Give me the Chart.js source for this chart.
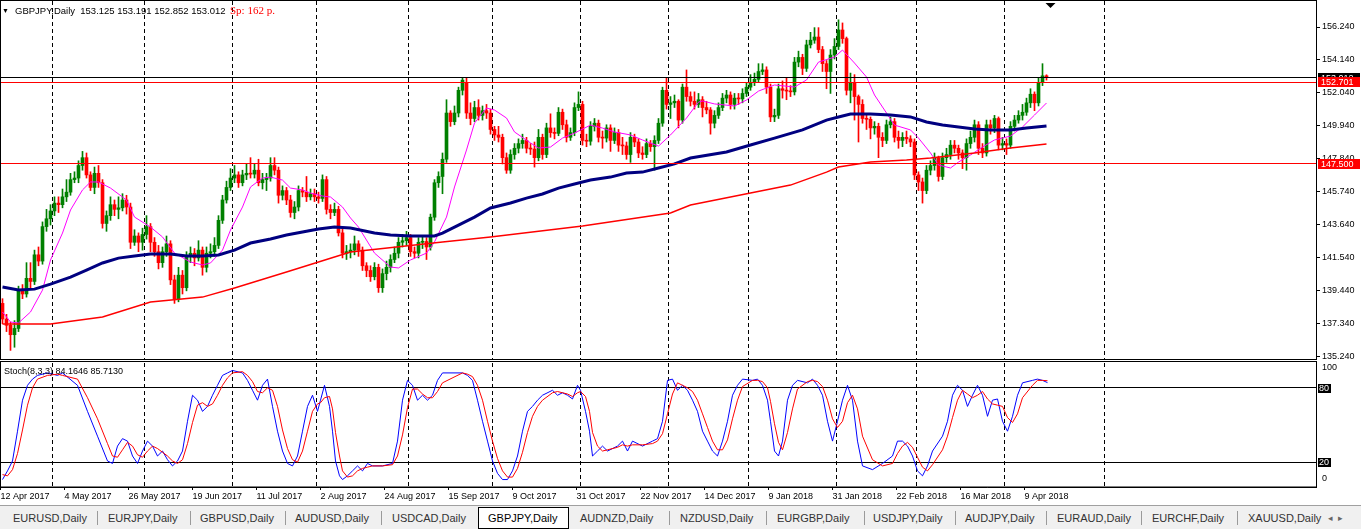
<!DOCTYPE html>
<html><head><meta charset="utf-8">
<script src="https://cdn.jsdelivr.net/npm/chart.js@4.4.1/dist/chart.umd.min.js"></script>
<style>
html,body{margin:0;padding:0;background:#fff;width:1361px;height:529px;overflow:hidden;font-family:'Liberation Sans',Arial,sans-serif;}
#wrap{position:relative;width:1361px;height:529px;}
canvas{position:absolute;left:0;}
#c1{top:0;} #c2{top:360px;}
.t{position:absolute;white-space:nowrap;font-size:9px;line-height:11px;color:#000;}
#tabs{position:absolute;left:0;top:505px;width:1361px;height:24px;background:#f0f0f0;border-top:1px solid #a0a0a0;}
.tab{position:absolute;top:6px;font-size:11px;line-height:13px;color:#333;white-space:nowrap;}
.sep{position:absolute;top:5px;width:1px;height:14px;background:#9a9a9a;}
#active{position:absolute;left:478px;top:1px;width:89px;height:20px;background:#fff;border:1px solid #000;}
</style></head>
<body><div id="wrap">
<canvas id="c1" width="1361" height="360"></canvas>
<canvas id="c2" width="1361" height="146"></canvas>
<div class="t" style="left:2px;top:5px;font-size:7px;">&#9660;</div>
<div class="t" style="left:15px;top:5px;font-size:9.5px;">GBPJPY,Daily&nbsp; 153.125 153.191 152.852 153.012</div>
<div class="t" style="left:230px;top:4px;font-family:'Liberation Serif',serif;font-size:11px;line-height:13px;color:#ff0000;">Sp: 162 p.</div>
<div class="t" style="left:4px;top:366px;">Stoch(8,3,3) 84.1646 85.7130</div>
<div id="tabs"></div>
</div>
<script>
// ---------- data ----------
const dateLabels = ['12 Apr 2017','4 May 2017','26 May 2017','19 Jun 2017','11 Jul 2017','2 Aug 2017','24 Aug 2017','15 Sep 2017','9 Oct 2017','31 Oct 2017','22 Nov 2017','14 Dec 2017','9 Jan 2018','31 Jan 2018','22 Feb 2018','16 Mar 2018','9 Apr 2018'];
const dateTickBars = [0,16,32,48,64,80,96,112,128,144,160,176,192,208,224,240,256];
const monthStartBars = [13,36,58,79,102,123,145,167,187,209,229,251,276];
const priceTicks = [135.24,137.34,139.44,141.54,143.64,145.74,147.84,149.94,152.04,154.14,156.24];
const levelLines = [147.5, 152.701];
const bidPrice = 153.012;
const stochLevels = [20, 80];
const tabNames = ['EURUSD,Daily','EURJPY,Daily','GBPUSD,Daily','AUDUSD,Daily','USDCAD,Daily','GBPJPY,Daily','AUDNZD,Daily','NZDUSD,Daily','EURGBP,Daily','USDJPY,Daily','AUDJPY,Daily','EURAUD,Daily','EURCHF,Daily','XAUUSD,Daily'];

const opens = [
138.6,137.6,137.2,136.6,137.0,139.4,139.2,140.2,140.0,141.7,
141.3,143.5,144.0,144.5,145.0,144.9,145.4,145.7,146.5,146.6,
147.4,147.9,146.8,146.0,146.9,146.3,143.7,144.2,144.9,144.6,
144.7,145.2,144.75,142.5,142.9,142.5,143.0,143.5,142.5,141.9,
141.2,141.9,142.4,140.1,138.9,140.4,139.6,141.6,141.8,141.5,
142.0,140.9,141.8,141.9,142.3,143.9,145.2,146.0,146.6,146.8,
146.3,146.8,146.9,146.85,147.1,146.3,146.5,146.6,147.4,147.1,
145.5,145.8,145.2,144.4,144.75,145.8,145.7,145.4,145.6,145.4,
145.3,146.5,144.6,144.4,144.6,143.1,141.8,141.9,142.0,142.4,
142.0,141.0,140.7,140.3,140.9,139.6,140.5,140.9,141.4,141.8,
142.5,142.6,142.8,141.9,141.8,142.5,142.55,142.2,144.1,146.3,
146.7,147.8,150.75,150.2,150.75,152.2,152.7,150.75,150.4,151.1,
150.6,150.9,150.75,149.7,149.35,149.2,147.9,147.1,148.1,148.5,
148.8,149.0,148.5,148.45,147.9,149.2,148.1,149.8,149.5,149.45,
150.8,150.0,149.2,149.5,151.1,151.3,149.0,148.95,149.9,150.1,
149.2,149.15,149.8,149.0,149.5,148.7,148.65,148.1,149.2,148.9,
148.2,148.1,148.8,148.6,149.0,150.1,152.2,151.3,151.4,151.5,
150.3,152.4,151.8,151.5,151.3,151.6,151.1,150.95,150.1,150.6,
151.1,151.7,151.9,151.3,151.7,151.65,152.0,152.4,152.7,152.9,
153.4,153.5,152.4,150.5,150.6,152.3,152.2,152.15,152.1,154.0,
154.3,153.6,155.1,155.4,155.6,154.8,153.9,153.4,154.45,155.0,
156.05,155.5,152.2,152.7,151.8,151.3,150.4,150.35,149.8,149.9,
149.2,149.0,150.0,150.2,149.2,149.0,149.2,149.1,148.9,146.8,
146.35,145.8,147.1,147.4,147.9,146.7,147.9,148.1,148.7,148.5,
148.2,147.9,148.8,149.2,150.0,148.5,148.2,150.0,149.8,150.4,
148.7,148.8,148.7,149.9,150.3,150.6,150.8,151.4,151.95,151.4,
152.7,153.125];
const highs = [
138.9,137.9,137.4,137.5,139.7,139.8,141.2,141.2,142.0,142.2,
143.8,144.6,144.9,145.4,145.4,145.9,146.5,146.9,147.0,147.7,
148.3,148.2,147.0,147.3,147.4,146.5,144.5,145.4,145.2,145.4,
145.6,145.5,145.0,143.3,143.1,143.4,144.2,143.7,142.8,142.3,
142.2,142.9,142.6,140.4,140.9,140.7,141.9,142.2,142.1,142.6,
142.2,142.2,142.4,142.8,144.2,145.5,146.4,147.2,147.4,147.0,
147.1,147.5,147.9,147.5,147.8,146.9,146.9,147.9,147.9,147.3,
146.1,146.0,145.5,145.1,146.1,146.0,146.7,145.9,145.9,145.7,
146.8,146.7,144.9,145.0,144.8,143.4,142.3,142.4,142.9,142.6,
142.2,141.2,141.0,141.2,141.1,140.8,141.3,141.7,142.2,142.8,
143.0,143.2,143.0,142.2,142.8,142.9,142.8,144.3,146.5,147.0,
148.2,151.6,150.9,151.2,152.4,153.0,153.0,151.4,151.5,151.6,
151.2,151.3,151.0,149.9,149.9,149.4,148.2,148.4,148.8,149.1,
149.4,149.2,148.8,148.9,149.7,149.4,150.1,150.7,149.8,151.1,
151.0,150.3,149.8,151.4,152.1,151.5,149.4,150.2,150.4,150.3,
149.6,150.0,150.0,149.8,149.7,149.2,148.9,149.5,149.4,149.1,
148.6,149.1,149.0,149.3,150.4,152.4,153.0,151.8,151.9,151.6,
152.6,153.5,152.1,152.1,152.0,151.8,151.5,151.1,150.9,151.4,
152.0,152.2,152.1,152.0,152.0,152.3,152.7,153.2,153.3,153.9,
153.9,153.7,152.6,151.0,152.6,152.8,153.0,152.5,154.3,154.7,
154.5,155.4,155.9,156.2,156.2,155.0,154.1,154.8,155.5,156.7,
156.5,155.6,153.3,153.2,151.9,151.6,150.7,150.5,150.2,150.1,
149.5,150.3,150.5,150.4,149.6,149.5,149.6,149.3,149.1,147.0,
146.6,147.4,147.7,148.2,148.0,148.2,148.5,149.0,149.0,148.7,
148.4,149.1,149.6,150.3,150.2,148.8,150.3,150.3,150.6,150.5,
149.2,149.1,150.2,150.6,150.9,151.3,151.7,152.3,152.1,153.0,
153.9,153.191];
const lows = [
137.3,136.8,135.6,135.8,136.8,138.9,139.0,139.6,139.8,141.0,
141.1,143.2,143.6,144.2,144.4,144.7,145.1,145.5,146.3,146.3,
147.1,146.6,145.8,145.6,146.0,143.4,143.2,143.9,144.2,144.0,
144.5,144.3,142.1,142.3,141.9,142.0,142.7,141.9,141.6,140.8,
140.9,141.6,139.8,138.6,138.7,139.2,139.4,141.2,141.0,141.3,
140.4,140.6,141.5,141.6,142.1,143.7,145.0,145.8,146.3,146.0,
146.1,146.5,146.6,146.6,146.1,145.9,145.8,146.4,146.8,145.0,
145.2,144.9,144.1,144.0,144.5,145.4,145.1,145.2,145.1,145.0,
145.1,144.3,144.0,144.2,142.9,141.5,141.4,141.5,141.7,141.6,
140.7,140.3,140.0,140.1,139.3,139.3,140.1,140.6,141.2,141.5,
142.2,142.3,141.6,141.5,141.5,142.1,141.4,142.0,143.9,146.0,
145.6,147.6,149.9,150.0,150.5,151.9,150.4,150.0,150.2,150.3,
150.3,150.4,149.4,149.0,148.9,147.5,146.9,146.9,147.8,148.2,
148.5,148.2,148.1,147.3,147.7,147.8,147.9,149.2,149.1,149.3,
149.7,148.9,149.0,149.3,150.9,148.7,148.6,148.7,149.6,148.9,
148.5,148.9,148.3,148.8,148.3,148.1,147.8,147.6,148.6,147.9,
147.8,147.9,148.3,147.1,148.8,149.9,151.0,150.4,151.1,149.8,
150.1,151.5,151.2,151.0,151.1,150.5,150.7,149.4,149.8,150.4,
150.9,151.4,151.0,151.0,151.3,151.4,151.8,152.2,152.5,152.7,
153.2,152.0,150.2,150.2,150.4,151.7,151.6,151.8,151.9,153.7,
153.2,153.4,154.9,155.2,154.6,153.4,152.3,152.0,154.2,154.8,
155.2,151.9,151.4,150.3,148.9,150.1,149.7,149.1,149.4,147.9,
148.6,148.8,149.8,148.9,148.5,148.6,148.8,148.6,146.5,145.8,
145.0,145.6,146.8,147.1,146.4,146.5,147.6,147.8,148.2,147.8,
147.2,147.1,148.5,148.9,148.1,147.9,148.0,149.4,149.5,148.4,
148.4,148.1,148.5,149.6,150.1,150.3,150.6,151.1,150.9,151.2,
152.5,152.852];
const closes = [
137.6,137.2,136.6,137.0,139.4,139.2,140.2,140.0,141.7,141.3,
143.5,144.0,144.5,145.0,144.9,145.4,145.7,146.5,146.6,147.4,
147.9,146.8,146.0,146.9,146.3,143.7,144.2,144.9,144.6,144.7,
145.2,144.75,142.5,142.9,142.5,143.0,143.5,142.5,141.9,141.2,
141.9,142.4,140.1,138.9,140.4,139.6,141.6,141.8,141.5,142.0,
140.9,141.8,141.9,142.3,143.9,145.2,146.0,146.6,146.8,146.3,
146.8,146.9,146.85,147.1,146.3,146.5,146.6,147.4,147.1,145.5,
145.8,145.2,144.4,144.75,145.8,145.7,145.4,145.6,145.4,145.3,
146.5,144.6,144.4,144.6,143.1,141.8,141.9,142.0,142.4,142.0,
141.0,140.7,140.3,140.9,139.6,140.5,140.9,141.4,141.8,142.5,
142.6,142.8,141.9,141.8,142.5,142.55,142.2,144.1,146.3,146.7,
147.8,150.75,150.2,150.75,152.2,152.85,150.75,150.4,151.1,150.6,
150.9,150.75,149.7,149.35,149.2,147.9,147.1,148.1,148.5,148.8,
149.0,148.5,148.45,147.9,149.2,148.1,149.8,149.5,149.45,150.8,
150.0,149.2,149.5,151.1,151.3,149.0,148.95,149.9,150.1,149.2,
149.15,149.8,149.0,149.5,148.7,148.65,148.1,149.2,148.9,148.2,
148.1,148.8,148.6,149.0,150.1,152.2,151.3,151.4,151.5,150.3,
152.4,151.8,151.5,151.3,151.6,151.1,150.95,150.1,150.6,151.1,
151.7,151.9,151.3,151.7,151.65,152.0,152.4,152.7,152.9,153.4,
153.5,152.4,150.5,150.6,152.3,152.2,152.15,152.1,154.0,154.3,
153.6,155.1,155.4,155.6,154.8,153.9,153.4,154.45,155.0,156.05,
155.5,152.2,152.7,151.8,151.3,150.4,150.35,149.8,149.9,149.2,
149.0,150.0,150.2,149.2,149.0,149.2,149.1,148.9,146.8,146.35,
145.8,147.1,147.4,147.9,146.7,147.9,148.1,148.7,148.5,148.2,
147.9,148.8,149.2,150.0,148.5,148.2,150.0,149.8,150.4,148.7,
148.8,148.7,149.9,150.3,150.6,150.8,151.4,151.95,151.4,152.7,
153.125,153.012];

// moving averages: [bar, price]
const maFast = [[0,138.05],[2,137.41],[4,137.35],[7,138.05],[10,139.45],[12,141.37],[15,143.09],[17,144.56],[20,145.84],[22,146.35],[24,146.35],[27,145.96],[31,145.2],[33,144.11],[37,143.47],[40,142.84],[43,141.81],[47,141.24],[50,141.05],[52,141.18],[55,142.0],[57,143.28],[60,144.75],[62,146.03],[65,146.6],[67,146.66],[70,146.47],[72,145.96],[75,145.84],[77,145.64],[80,145.45],[82,145.39],[85,144.75],[87,144.05],[89,143.47],[93,141.81],[97,140.92],[99,140.86],[102,141.37],[106,141.81],[108,142.52],[111,144.11],[113,146.03],[116,148.39],[118,150.11],[121,151.07],[123,150.94],[126,150.43],[128,149.54],[132,148.84],[134,148.52],[137,148.58],[140,149.15],[143,149.47],[147,149.98],[150,149.79],[153,149.54],[157,149.35],[160,149.03],[164,148.64],[167,149.35],[171,150.43],[174,151.45],[175,151.52],[178,151.33],[183,151.2],[186,151.58],[189,152.15],[193,152.54],[198,152.41],[201,152.86],[204,154.0],[208,154.32],[210,154.77],[213,153.94],[216,153.05],[218,151.9],[221,150.75],[223,149.98],[227,149.67],[229,149.15],[232,148.2],[234,147.43],[237,147.24],[239,147.62],[242,148.07],[245,148.58],[248,149.03],[252,149.28],[255,149.86],[258,150.62],[261,151.39]];
const maSlow = [[0,139.64],[4,139.45],[8,139.51],[12,139.83],[17,140.28],[21,140.73],[25,141.18],[29,141.49],[33,141.62],[37,141.75],[42,141.75],[46,141.62],[50,141.62],[54,141.69],[58,142.0],[62,142.45],[67,142.71],[71,142.96],[75,143.16],[79,143.35],[83,143.47],[87,143.41],[93,143.09],[97,142.96],[102,142.9],[108,142.9],[110,143.09],[114,143.6],[118,144.11],[122,144.69],[127,145.01],[131,145.32],[135,145.58],[139,145.96],[143,146.22],[147,146.47],[152,146.66],[156,146.92],[160,146.98],[164,147.24],[168,147.5],[172,147.88],[181,148.26],[187,148.71],[193,149.15],[200,149.67],[206,150.30],[209,150.5],[212,150.69],[217,150.69],[222,150.62],[227,150.5],[231,150.18],[235,149.98],[239,149.86],[243,149.73],[247,149.67],[252,149.67],[256,149.79],[261,149.92]];
const maLong = [[0,137.28],[12,137.28],[25,137.73],[37,138.69],[50,139.0],[58,139.58],[71,140.6],[83,141.56],[87,141.88],[110,142.52],[122,142.84],[145,143.54],[167,144.37],[172,144.88],[187,145.64],[197,146.15],[206,146.98],[209,147.3],[217,147.62],[226,147.75],[232,147.88],[243,148.2],[252,148.52],[261,148.77]];

// stochastic: [bar, value]
const stochMain = [[0,6],[1.25,13],[2.5,21],[3.75,45],[5,70],[6.25,82],[7.5,87],[8.75,90],[11.25,92],[13.75,90],[15,92],[18.75,82],[21.25,61],[23.75,41],[26.25,21],[27.5,19],[28.75,33],[30,39],[31.25,37],[32.5,25],[33.75,19],[35,29],[36.25,37],[37.5,33],[38.75,25],[40,29],[41.25,22],[42.5,17],[43.75,21],[45,29],[46.25,53],[47.5,74],[48.75,70],[50,61],[51.25,65],[52.5,74],[53.75,82],[55,90],[56.25,92],[57.5,94],[60,92],[61.25,86],[62.5,78],[63.75,70],[65,82],[66.25,87],[67.5,65],[68.75,45],[70,29],[71.25,19],[72.5,17],[73.75,25],[75,45],[76.25,65],[77.5,74],[78.75,61],[79.5,70],[80.5,82],[81.75,65],[82.5,45],[83.25,21],[84.25,9],[85,6],[86.25,9],[87.5,13],[88.75,17],[90,13],[91.25,19],[92.5,17],[95,17],[97.5,19],[98.75,37],[100,70],[101.25,86],[102.5,82],[103.75,70],[105,74],[106.25,70],[107.5,74],[108.75,86],[110,92],[115,92],[116.25,90],[117.5,86],[118.75,70],[120,53],[121.25,37],[122.5,21],[123.75,11],[125,6],[126.25,6],[127.5,13],[128.75,25],[130,45],[131.25,61],[132.5,65],[133.75,70],[135,74],[137.5,78],[138.75,74],[140,76],[141.25,74],[142.5,71],[143.75,82],[144.5,78],[145.75,61],[146.75,45],[147.5,25],[148.75,29],[150,33],[151.25,29],[153.75,33],[155,37],[156.25,29],[157.5,37],[160,33],[162.5,37],[163.75,39],[165,53],[166.25,86],[167.5,87],[168.75,78],[170,82],[171.25,78],[172.5,70],[173.75,61],[175,45],[176.25,37],[177.5,29],[178.75,25],[180,37],[181.25,53],[182.5,74],[183.75,82],[185,87],[187.5,86],[188.75,87],[190,82],[191.25,70],[192,53],[193,29],[194,25],[195,37],[196.25,70],[197.5,82],[198.75,86],[201.25,84],[202.5,87],[203.75,82],[205,74],[206.25,53],[207.5,37],[208.75,53],[210,70],[211.25,82],[212.5,70],[213.75,37],[215,17],[217.5,14],[220,19],[222.5,25],[223.75,37],[225,37],[226.25,33],[227.5,25],[228.75,13],[230,9],[231.25,17],[232.5,29],[235,41],[236.25,53],[237.5,74],[238.75,82],[240,78],[241.25,65],[242.5,74],[243.75,82],[245,74],[246.25,57],[247.5,70],[248.75,71],[250,53],[251.25,45],[252.5,57],[253.75,74],[255,84],[257.5,86],[258.75,87],[260,86],[261.25,84.16]];
const stochSignal = [[0,10],[1.25,9],[2.5,14],[3.75,27],[5,46],[6.25,66],[7.5,80],[8.75,87],[11.25,90],[13.75,91],[15,90],[18.75,87],[21.25,72],[23.75,55],[26.25,35],[27.5,25],[28.75,24],[30,30],[31.25,36],[32.5,33],[33.75,26],[35,24],[36.25,29],[37.5,33],[38.75,31],[40,28],[41.25,25],[42.5,21],[43.75,19],[45,22],[46.25,35],[47.5,52],[48.75,66],[50,68],[51.25,65],[52.5,67],[53.75,74],[55,82],[56.25,88],[57.5,92],[60,93],[61.25,90],[62.5,85],[63.75,77],[65,76],[66.25,80],[67.5,78],[68.75,65],[70,46],[71.25,31],[72.5,22],[73.75,20],[75,29],[76.25,45],[77.5,61],[78.75,67],[79.5,68],[80.5,72],[81.75,73],[82.5,63],[83.25,44],[84.25,25],[85,13],[86.25,8],[87.5,9],[88.75,13],[90,15],[91.25,16],[92.5,17],[95,17],[97.5,18],[98.75,25],[100,42],[101.25,64],[102.5,79],[103.75,79],[105,75],[106.25,72],[107.5,72],[108.75,77],[110,84],[115,92],[116.25,91],[117.5,89],[118.75,82],[120,70],[121.25,53],[122.5,37],[123.75,23],[125,13],[126.25,8],[127.5,8],[128.75,15],[130,28],[131.25,44],[132.5,57],[133.75,65],[135,70],[137.5,76],[138.75,77],[140,76],[141.25,75],[142.5,73],[143.75,76],[144.5,77],[145.75,73],[146.75,61],[147.5,44],[148.75,33],[150,29],[151.25,30],[153.75,32],[155,34],[156.25,33],[157.5,34],[160,34],[162.5,35],[163.75,37],[165,43],[166.25,59],[167.5,75],[168.75,84],[170,82],[171.25,80],[172.5,77],[173.75,70],[175,59],[176.25,48],[177.5,37],[178.75,30],[180,30],[181.25,38],[182.5,55],[183.75,70],[185,81],[187.5,86],[188.75,86],[190,85],[191.25,80],[192,69],[193,51],[194,36],[195,30],[196.25,44],[197.5,63],[198.75,79],[201.25,85],[202.5,86],[203.75,85],[205,81],[206.25,70],[207.5,55],[208.75,48],[210,53],[211.25,68],[212.5,74],[213.75,63],[215,41],[217.5,22],[220,17],[222.5,19],[223.75,27],[225,33],[226.25,36],[227.5,32],[228.75,24],[230,16],[231.25,13],[232.5,18],[235,30],[236.25,41],[237.5,56],[238.75,70],[240,78],[241.25,75],[242.5,72],[243.75,74],[245,77],[246.25,71],[247.5,67],[248.75,66],[250,65],[251.25,56],[252.5,52],[253.75,59],[255,72],[257.5,82],[258.75,86],[260,86],[261.25,85.71]];

// ---------- layout / style ----------
const X_MIN = -0.625, X_MAX = 328.375;
const Y_MIN = 135.05, Y_MAX = 157.90;
const BULL = '#008000', BEAR = '#ff0000';
const FONT = '"Liberation Sans", Arial, sans-serif';
Chart.defaults.font.family = FONT;

const candleColor = closes.map((c,i)=> c >= opens[i] ? BULL : BEAR);
const toXY = arr => arr.map(p => ({x:p[0], y:p[1]}));
const noPad = s => { s.paddingTop = 0; s.paddingBottom = 0; s.paddingLeft = 0; s.paddingRight = 0; };

function dashedMonths(ctx, a, x){
  ctx.save();
  ctx.strokeStyle = '#000'; ctx.lineWidth = 1; ctx.setLineDash([4,3]);
  monthStartBars.forEach(b=>{
    const px = Math.floor(x.getPixelForValue(b - 0.5)) + 0.5;
    ctx.beginPath(); ctx.moveTo(px, a.top); ctx.lineTo(px, a.bottom); ctx.stroke();
  });
  ctx.restore();
}

const mainDecor = {
  id:'mainDecor',
  beforeDatasetsDraw(chart){
    dashedMonths(chart.ctx, chart.chartArea, chart.scales.x);
  },
  afterDatasetsDraw(chart){
    const {ctx, chartArea:a, scales:{y}} = chart;
    ctx.save(); ctx.lineWidth = 1;
    const hl = (v,col)=>{ const py = Math.floor(y.getPixelForValue(v)) + 0.5; ctx.strokeStyle = col; ctx.beginPath(); ctx.moveTo(a.left,py); ctx.lineTo(a.right,py); ctx.stroke(); };
    hl(bidPrice,'#000');
    levelLines.forEach(v=>hl(v,'#ff0000'));
    ctx.restore();
  },
  afterDraw(chart){
    const {ctx, chartArea:a, scales:{x,y}} = chart;
    ctx.save();
    ctx.strokeStyle = '#000'; ctx.lineWidth = 1;
    ctx.strokeRect(a.left+0.5, a.top-0.5, a.right-a.left, a.bottom-a.top+1);
    const box = (v,bg,txt)=>{
      const py = Math.round(y.getPixelForValue(v));
      ctx.fillStyle = bg; ctx.fillRect(a.right+2, py-5, 42, 10);
      ctx.fillStyle = '#fff'; ctx.font = '9px '+FONT; ctx.textBaseline = 'middle'; ctx.textAlign = 'left';
      ctx.fillText(txt, a.right+5, py+0.5);
    };
    box(bidPrice,'#000',bidPrice.toFixed(3));
    levelLines.slice().reverse().forEach(v=>box(v,'#ff0000',v.toFixed(3)));
    const sx = x.getPixelForValue(262);
    ctx.fillStyle = '#000'; ctx.beginPath();
    ctx.moveTo(sx-5, a.top+2); ctx.lineTo(sx+5, a.top+2); ctx.lineTo(sx, a.top+7); ctx.closePath(); ctx.fill();
    ctx.restore();
  }
};

const stochDecor = {
  id:'stochDecor',
  beforeDatasetsDraw(chart){
    const {ctx, chartArea:a, scales:{x,y}} = chart;
    dashedMonths(ctx, a, x);
    ctx.save(); ctx.strokeStyle = '#000'; ctx.lineWidth = 1;
    stochLevels.forEach(v=>{ const py = Math.floor(y.getPixelForValue(v)) + 0.5; ctx.beginPath(); ctx.moveTo(a.left,py); ctx.lineTo(a.right,py); ctx.stroke(); });
    ctx.restore();
  },
  afterDraw(chart){
    const {ctx, chartArea:a, scales:{y}} = chart;
    ctx.save();
    ctx.strokeStyle = '#000'; ctx.lineWidth = 1;
    ctx.strokeRect(a.left+0.5, a.top-1.5, a.right-a.left, a.bottom-a.top+1.5);
    ctx.font = '9px '+FONT; ctx.textBaseline = 'middle'; ctx.textAlign = 'left';
    ctx.fillStyle = '#000';
    ctx.fillText('100', a.right+6, y.getPixelForValue(100)+5);
    ctx.fillText('0', a.right+6, y.getPixelForValue(0)-8);
    stochLevels.forEach(v=>{
      const py = Math.round(y.getPixelForValue(v));
      ctx.fillStyle = '#000'; ctx.fillRect(a.right+2, py-4, 13, 9);
      ctx.fillStyle = '#fff'; ctx.fillText(String(v), a.right+3, py+0.5);
    });
    ctx.restore();
  }
};

// ---------- main price chart ----------
new Chart(document.getElementById('c1'), {
  type:'bar',
  data:{ datasets:[
    {type:'line', data:toXY(maSlow), borderColor:'#000080', borderWidth:3, pointRadius:0, tension:0, order:0},
    {type:'line', data:toXY(maLong), borderColor:'#ff0000', borderWidth:1.5, pointRadius:0, tension:0, order:0},
    {type:'line', data:toXY(maFast), borderColor:'#ff00ff', borderWidth:1, pointRadius:0, tension:0, order:0},
    {type:'bar', data:closes.map((c,i)=>({x:i, y:[opens[i], c]})), backgroundColor:candleColor, borderWidth:0, barThickness:3, grouped:false, minBarLength:1, order:1},
    {type:'bar', data:closes.map((c,i)=>({x:i, y:[lows[i], highs[i]]})), backgroundColor:candleColor, borderWidth:0, barThickness:1, grouped:false, order:2}
  ]},
  options:{
    responsive:false, animation:false, events:[],
    layout:{padding:{top:1, bottom:1, left:0, right:0}},
    plugins:{legend:{display:false}, tooltip:{enabled:false}},
    scales:{
      x:{type:'linear', min:X_MIN, max:X_MAX, offset:false, display:false},
      y:{type:'linear', position:'right', min:Y_MIN, max:Y_MAX, bounds:'data',
         afterFit(s){ s.width = 45; noPad(s); },
         afterBuildTicks(s){ s.ticks = priceTicks.map(v=>({value:v})); },
         ticks:{autoSkip:false, callback:v=>Number(v).toFixed(3), font:{size:9, family:FONT}, color:'#000', padding:2},
         grid:{drawOnChartArea:false, drawTicks:true, tickLength:4, color:'#000'},
         border:{display:true, color:'#000'}}
    }
  },
  plugins:[mainDecor]
});

// ---------- stochastic panel ----------
new Chart(document.getElementById('c2'), {
  type:'line',
  data:{ datasets:[
    {data:toXY(stochMain), borderColor:'#0000ff', borderWidth:1, pointRadius:0, tension:0, order:1},
    {data:toXY(stochSignal), borderColor:'#ff0000', borderWidth:1, pointRadius:0, tension:0, order:0}
  ]},
  options:{
    responsive:false, animation:false, events:[],
    layout:{padding:{top:3, bottom:0, left:0, right:0}},
    plugins:{legend:{display:false}, tooltip:{enabled:false}},
    scales:{
      x:{type:'linear', position:'bottom', min:X_MIN, max:X_MAX, offset:false, bounds:'data',
         afterFit(s){ s.height = 19; noPad(s); },
         afterBuildTicks(s){ s.ticks = dateTickBars.map(b=>({value:b-0.5})); },
         ticks:{autoSkip:false, maxRotation:0, align:'start', padding:1, font:{size:9, family:FONT}, color:'#000',
                callback:(v,i)=>dateLabels[i]},
         grid:{drawOnChartArea:false, drawTicks:true, tickLength:3, color:'#000'},
         border:{display:true, color:'#000'}},
      y:{type:'linear', position:'right', min:0, max:100, bounds:'data',
         afterFit(s){ s.width = 45; noPad(s); },
         ticks:{display:false},
         grid:{display:false},
         border:{display:true, color:'#000'}}
    }
  },
  plugins:[stochDecor]
});

// ---------- symbol tabs ----------
const tabLeft = [13,108,200,295,392,488,580,680,777,873,965,1057,1152,1248];
const sepLeft = [97,190,285,381,669,766,864,955,1046,1141,1237];
const tabs = document.getElementById('tabs');
const act = document.createElement('div'); act.id = 'active'; tabs.appendChild(act);
sepLeft.forEach(l=>{ const s=document.createElement('div'); s.className='sep'; s.style.left=l+'px'; tabs.appendChild(s); });
tabNames.forEach((n,i)=>{ const d=document.createElement('div'); d.className='tab'; d.style.left=tabLeft[i]+'px'; d.textContent=n; if(i===5){d.style.color='#000';} tabs.appendChild(d); });
const arr = document.createElement('div'); arr.className='tab'; arr.style.left='1328px'; arr.style.color='#666'; arr.style.fontSize='9px'; arr.textContent='\u25C2 \u00A0\u25B8'; tabs.appendChild(arr);
</script>
</body></html>
